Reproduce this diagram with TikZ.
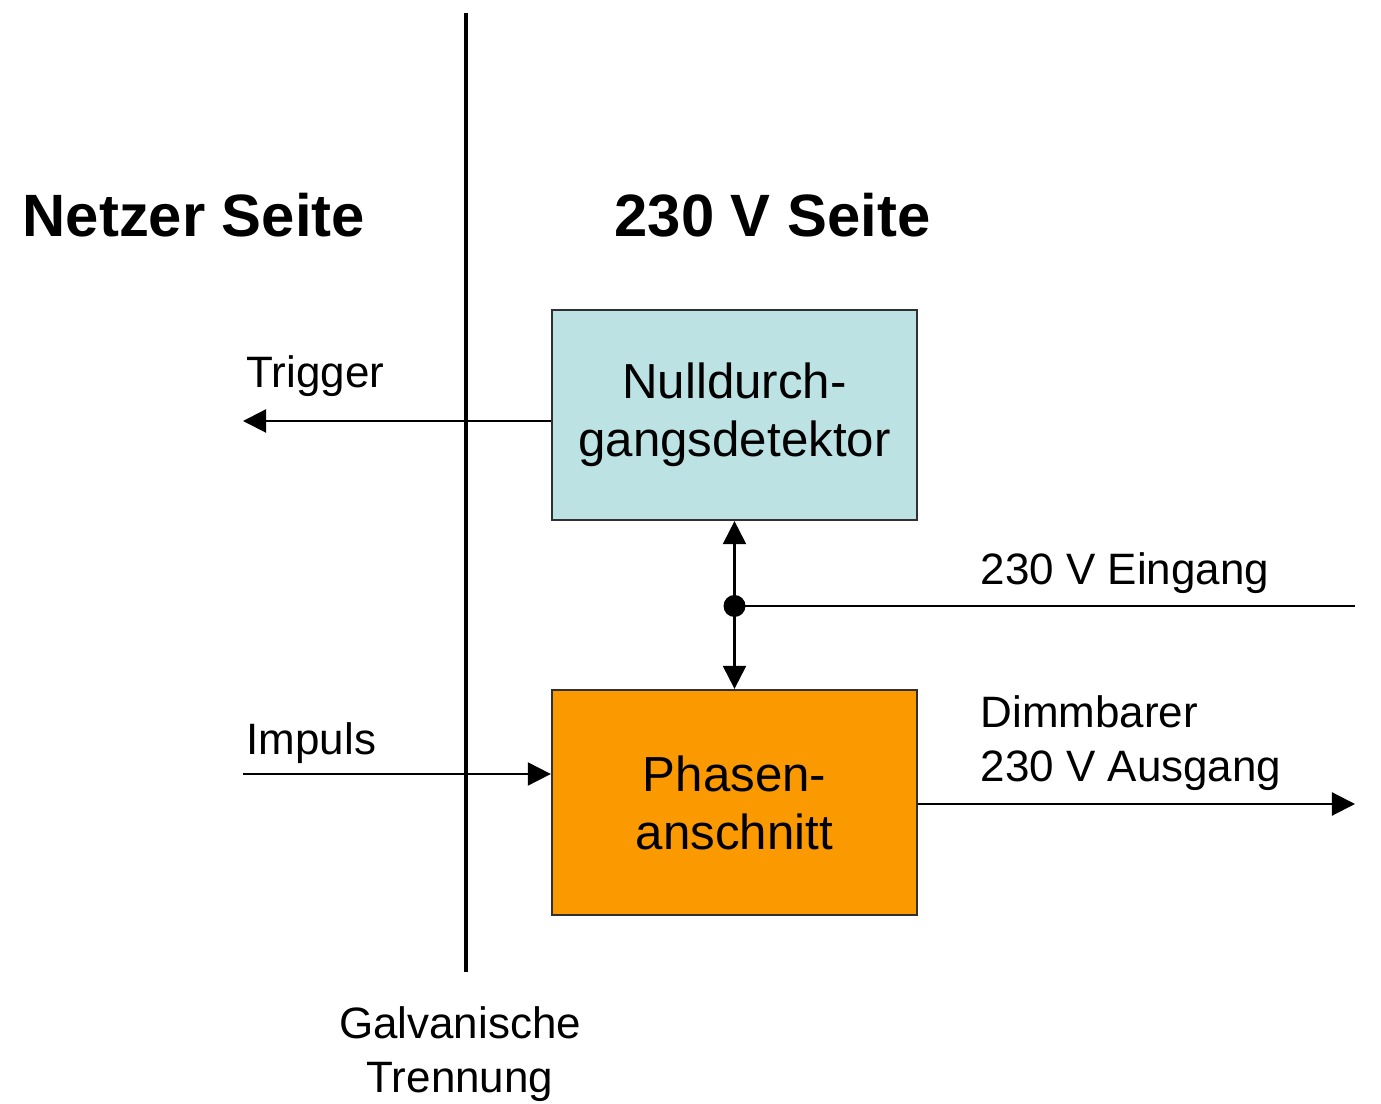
\documentclass[tikz,border=0pt]{standalone}
\usepackage{fontspec}
\setmainfont{Liberation Sans}
\usetikzlibrary{arrows.meta}
\definecolor{boxblue}{HTML}{BCE2E3}
\definecolor{boxorange}{HTML}{FB9A00}
\definecolor{boxline}{HTML}{303030}
\begin{document}
\begin{tikzpicture}[x=0.01cm,y=-0.01cm,
  blockbox/.style={draw=boxline,line width=0.6pt,minimum width=3.65cm,inner sep=0pt,align=center,font=\fontsize{14}{16.5}\selectfont},
  lbl/.style={anchor=base west,inner sep=0pt,font=\fontsize{12.5}{15.5}\selectfont},
  title/.style={anchor=base west,inner sep=0pt,font=\fontsize{17}{20}\selectfont\bfseries},
  conn/.style={line width=0.6pt},
  arr/.style={conn,-{Triangle[length=0.23cm,width=0.23cm]}}]
\useasboundingbox (0,0) rectangle (1381,1104);
\fill[white] (0,0) rectangle (1381,1104);
% separation line
\coordinate (septop) at (466,13);
\coordinate (sepbot) at (466,972);
\draw[line width=1.1pt] (septop) -- (sepbot);
% titles
\node[title] (tnetz) at (22,237) {Netzer Seite};
\node[title] (t230) at (614,237) {230 V Seite};
% blocks
\node[blockbox,fill=boxblue,minimum height=2.1cm] (null) at (734.5,415) {Nulldurch-\\gangsdetektor};
\node[blockbox,fill=boxorange,minimum height=2.25cm] (phase) at (734.5,802.5) {Phasen-\\anschnitt};
% trigger
\coordinate (trig) at (243,421);
\draw[arr] (null.west |- trig) -- (trig);
\node[lbl] (ltrig) at (246,388) {Trigger};
% impuls
\coordinate (imp) at (243,774);
\draw[arr] (imp) -- (imp -| phase.west);
\node[lbl] (limp) at (246,755) {Impuls};
% input
\coordinate (dot) at (734.5,606);
\coordinate (inend) at (1355,606);
\fill (dot) circle[radius=11];
\draw[conn] (dot) -- (inend);
\draw[arr] (dot) -- (null.south);
\draw[arr] (dot) -- (phase.north);
\node[lbl] (lein) at (980,585) {230 V Eingang};
% output
\coordinate (outend) at (1355,804);
\draw[arr] (phase.east |- outend) -- (outend);
\node[lbl,align=left,anchor=base west] (laus) at (980,782) {Dimmbarer\\230 V Ausgang};
% galvanic
\node[lbl,anchor=base,align=center] (lgal) at (460,1093) {Galvanische\\Trennung};
\end{tikzpicture}
\end{document}
